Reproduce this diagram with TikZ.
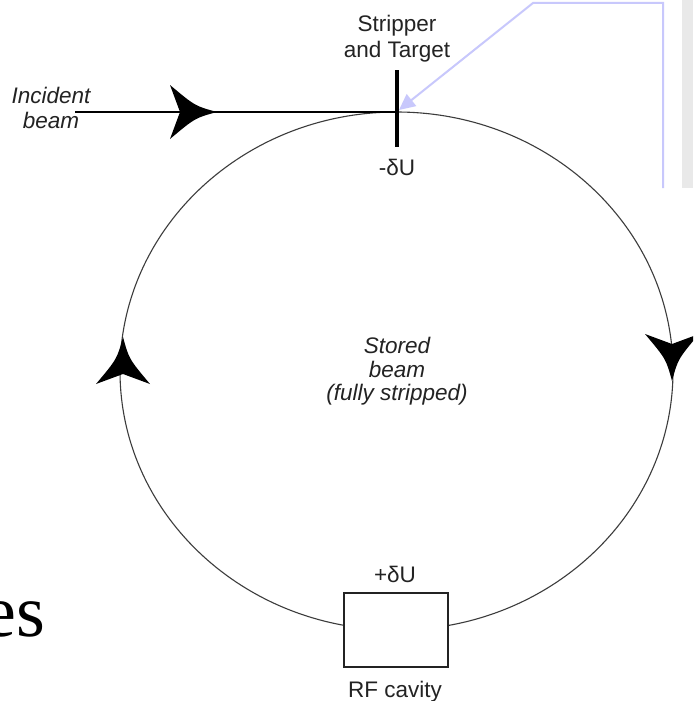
\documentclass[tikz,border=0pt]{standalone}
\usepackage{fontspec}
\usetikzlibrary{arrows.meta}
\newfontfamily\lsans{Liberation Sans}
\newfontfamily\tnr{Liberation Serif}
\definecolor{callout}{RGB}{200,200,252}
\definecolor{panel}{RGB}{233,233,233}
\definecolor{ink}{RGB}{35,35,35}
\definecolor{ringc}{RGB}{60,60,60}
\begin{document}
\begin{tikzpicture}[x=1pt,y=-1pt,
  lbl/.style={font=\lsans\fontsize{22.5}{26}\selectfont, text=ink, inner sep=0pt, anchor=base},
  ilbl/.style={lbl, font=\lsans\itshape\fontsize{22.5}{26}\selectfont},
  ring/.style={draw=ringc, line width=1.1pt},
  beamline/.style={draw=black, line width=1.4pt},
  calloutline/.style={draw=callout, line width=2pt, -{Triangle[length=16pt,width=15pt]}},
  beamhead/.pic={\fill[black] (0,0) .. controls (-22,6) .. (-47,27) -- (-37,0) -- (-47,-27) .. controls (-22,-6) .. (0,0) -- cycle;}
]
\useasboundingbox (0,0) rectangle (693,701);
\clip (0,0) rectangle (693,701);
\fill[white] (0,0) rectangle (693,701);
\fill[panel] (682,0) rectangle (693,188);

% ring
\draw[ring] (396.5,371) ellipse [x radius=276.5, y radius=259];

% incident beam
\coordinate (inc) at (75,112);
\coordinate (hit) at (397,112);
\draw[beamline] (inc) -- (hit);

% stripper
\node[fill=black, minimum width=3.6pt, minimum height=77pt, inner sep=0pt] (stripper) at (397,108.5) {};

% callout
\coordinate (c1) at (663,188);
\coordinate (c2) at (663,3);
\coordinate (c3) at (533,3);
\coordinate (ctip) at (399,110);
\draw[calloutline] (c1) -- (c2) -- (c3) -- (ctip);

% RF cavity
\node[draw=ink, line width=1.3pt, fill=white, minimum width=104pt, minimum height=74pt, inner sep=0pt] (cavity) at (396,630) {};

% arrowheads
\pic at (217,112) {beamhead};
\pic[rotate=90] at (123,337) {beamhead};
\pic[rotate=-90] at (672,381) {beamhead};

% texts
\node[lbl] (strip1) at (397,32) {Stripper};
\node[lbl] (strip2) at (397,57) {and Target};
\node[lbl] (minus) at (397,175) {-δU};
\node[ilbl] (inc1) at (51,103) {Incident};
\node[ilbl] (inc2) at (51,128) {beam};
\node[ilbl] (st1) at (397,353) {Stored};
\node[ilbl] (st2) at (397,377) {beam};
\node[ilbl] (st3) at (397,400) {(fully stripped)};
\node[lbl] (plus) at (395,582) {+δU};
\node[lbl] (rf) at (395,697) {RF cavity};
\node[font=\tnr\fontsize{74}{80}\selectfont, anchor=base east, inner sep=0pt, text=black] (es) at (45,636) {es};
\end{tikzpicture}
\end{document}
